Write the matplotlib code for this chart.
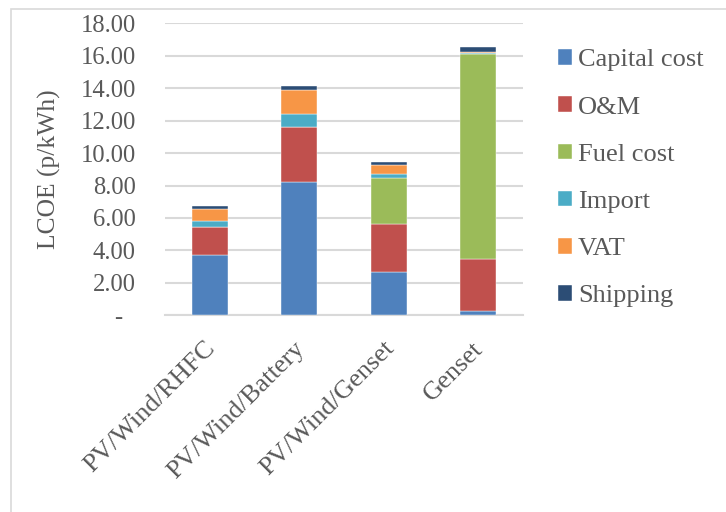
import numpy as np
import matplotlib.pyplot as plt
import matplotlib.transforms as mtransforms
from matplotlib.patches import Rectangle

plt.rcParams['font.family'] = ['Liberation Serif', 'DejaVu Serif']

systems = ["PV/Wind/RHFC", "PV/Wind/Battery", "PV/Wind/Genset", "Genset"]
components = ["Capital cost", "O&M", "Fuel cost", "Import", "VAT", "Shipping"]

capital = [3.70, 8.19, 2.65, 0.28]
om = [1.77, 3.39, 3.00, 3.18]
fuel = [0.00, 0.00, 2.83, 12.65]
imports = [0.37, 0.80, 0.26, 0.05]
vat = [0.70, 1.48, 0.50, 0.05]
shipping = [0.21, 0.29, 0.20, 0.33]

colors = ["#4f81bd", "#c0504d", "#9bbb59", "#4bacc6", "#f79646", "#2c4d75"]
text_color = "#595959"
grid_color = "#d9d9d9"

fig = plt.figure(figsize=(7.26, 5.12), dpi=100)
ax = fig.add_axes([165 / 726, 1 - 315.3 / 512, 358 / 726, 292 / 512])

x = np.arange(len(systems))
bottom = np.zeros(len(systems))
for name, vals, col in zip(components, [capital, om, fuel, imports, vat, shipping], colors):
    ax.bar(x, vals, width=0.4, bottom=bottom, color=col, label=name,
           edgecolor="white", linewidth=0.3, zorder=3)
    bottom += np.array(vals)

ax.set_xlim(-0.5, 3.5)
ax.set_ylim(0, 18)
ax.set_yticks(np.arange(0, 19, 2))
# accounting style: zero shown as a dash, padded away from the right edge
ax.set_yticklabels(["-  "] + [f"{v:.2f}" for v in np.arange(2, 19, 2)])
ax.yaxis.grid(True, color=grid_color, linewidth=1.5, zorder=0)
ax.tick_params(axis="y", length=0, pad=21, labelsize=17.7, labelcolor=text_color)
ax.tick_params(axis="x", length=0, pad=16)
ax.set_xticks(x)
ax.set_xticklabels(systems, rotation=45, ha="right", va="top",
                   rotation_mode="anchor", fontsize=19, color=text_color)
shift = mtransforms.ScaledTranslation(-6 / 100, 0, fig.dpi_scale_trans)
for lbl in ax.get_xticklabels():
    lbl.set_transform(lbl.get_transform() + shift)

for side in ["top", "right", "left"]:
    ax.spines[side].set_visible(False)
ax.spines["bottom"].set_color(grid_color)
ax.spines["bottom"].set_linewidth(1.5)

ax.set_ylabel("LCOE (p/kWh)", fontsize=18.4, color=text_color, labelpad=14)

ax.legend(loc="upper left", bbox_to_anchor=(545 / 726, 1 - 36 / 512),
          bbox_transform=fig.transFigure, frameon=False, borderpad=0,
          fontsize=19, labelcolor=text_color, handlelength=0.53, handleheight=0.53,
          handletextpad=0.22, labelspacing=0.95)

# light frame around the chart area
fig.patches.append(Rectangle((11 / 726, -0.1), 1.2, (512 - 8.5) / 512 + 0.1,
                             transform=fig.transFigure, fill=False,
                             edgecolor=grid_color, linewidth=1.2))

fig.savefig("out.png", dpi=100)
